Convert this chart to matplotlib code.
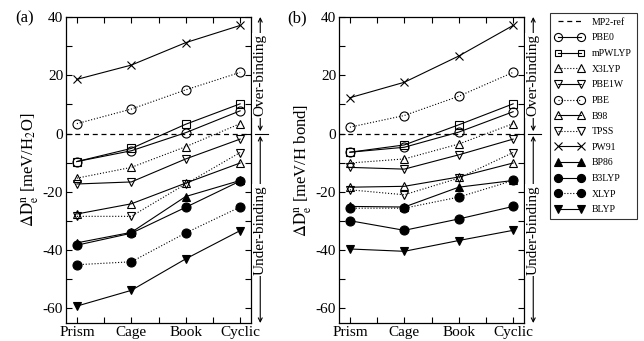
import matplotlib
matplotlib.use('Agg')
import matplotlib.pyplot as plt
import matplotlib.transforms as mtransforms
from matplotlib.ticker import MultipleLocator

plt.rcParams['font.family'] = ['Liberation Serif', 'DejaVu Serif']
plt.rcParams['mathtext.fontset'] = 'stix'
plt.rcParams['axes.unicode_minus'] = False

structures = ['Prism', 'Cage', 'Book', 'Cyclic']
methods = ['PBE0', 'mPWLYP', 'X3LYP', 'PBE1W', 'PBE', 'B98', 'TPSS',
           'PW91', 'BP86', 'B3LYP', 'XLYP', 'BLYP']

# panel (a): meV per H2O
pbe0_a = [-9.6, -5.9, 0.3, 7.8]
mpwlyp_a = [-9.6, -5.1, 3.2, 10.2]
x3lyp_a = [-15.3, -11.6, -4.5, 3.4]
pbe1w_a = [-17.3, -16.6, -8.7, -1.9]
pbe_a = [3.4, 8.4, 15.0, 21.0]
b98_a = [-27.6, -24.1, -17.0, -10.1]
tpss_a = [-28.4, -28.4, -17.3, -6.5]
pw91_a = [18.6, 23.5, 31.2, 37.1]
bp86_a = [-37.5, -33.9, -21.6, -16.1]
b3lyp_a = [-38.3, -34.2, -25.3, -16.3]
xlyp_a = [-45.0, -44.0, -34.1, -25.2]
blyp_a = [-59.2, -53.8, -43.0, -33.3]

# panel (b): meV per H bond
pbe0_b = [-6.4, -4.7, 0.5, 7.5]
mpwlyp_b = [-6.4, -3.9, 3.0, 10.2]
x3lyp_b = [-10.1, -8.7, -3.6, 3.4]
pbe1w_b = [-11.6, -12.2, -7.3, -1.9]
pbe_b = [2.2, 6.2, 12.8, 21.0]
b98_b = [-18.4, -18.1, -14.9, -10.1]
tpss_b = [-19.3, -21.0, -15.3, -6.5]
pw91_b = [12.3, 17.6, 26.6, 37.1]
bp86_b = [-25.0, -25.2, -18.4, -16.1]
b3lyp_b = [-29.9, -33.2, -29.3, -25.0]
xlyp_b = [-25.6, -25.6, -21.8, -16.1]
blyp_b = [-39.6, -40.4, -36.7, -33.2]

data_a = [pbe0_a, mpwlyp_a, x3lyp_a, pbe1w_a, pbe_a, b98_a, tpss_a,
          pw91_a, bp86_a, b3lyp_a, xlyp_a, blyp_a]
data_b = [pbe0_b, mpwlyp_b, x3lyp_b, pbe1w_b, pbe_b, b98_b, tpss_b,
          pw91_b, bp86_b, b3lyp_b, xlyp_b, blyp_b]

# marker, linestyle, filled
styles = [('o', '-', False), ('s', '-', False), ('^', ':', False),
          ('v', '-', False), ('o', ':', False), ('^', '-', False),
          ('v', ':', False), ('x', '-', False), ('^', '-', True),
          ('o', '-', True), ('o', ':', True), ('v', '-', True)]

x = list(range(len(structures)))

fig = plt.figure(figsize=(6.44, 3.41), dpi=100)
ax_a = fig.add_axes([66 / 644, 18 / 341, 185 / 644, 306 / 341])
ax_b = fig.add_axes([339 / 644, 18 / 341, 185 / 644, 306 / 341])


def draw_panel(ax, data, ylabel, tag):
    ax.axhline(0, color='black', ls='--', lw=0.9, dashes=(4, 3), label='MP2-ref')
    for vals, name, (mk, ls, filled) in zip(data, methods, styles):
        ms = 6.5 if mk == 'o' else 6
        if mk == 's':
            ms = 5.5
        ax.plot(x, vals, color='black', ls=ls, lw=0.8, marker=mk,
                ms=ms, mew=0.8, mfc='black' if filled else 'none',
                mec='black', label=name)
    ax.set_xlim(-0.2, 3.2)
    ax.set_ylim(-65, 40)
    ax.set_xticks(x)
    ax.set_xticklabels(structures)
    ax.xaxis.set_minor_locator(MultipleLocator(0.5))
    ax.yaxis.set_major_locator(MultipleLocator(20))
    ax.yaxis.set_minor_locator(MultipleLocator(10))
    ax.tick_params(which='both', direction='in', top=True, right=True,
                   labelsize=11, width=0.8)
    ax.tick_params(which='major', length=4, pad=2)
    ax.tick_params(which='minor', length=4)
    for s in ax.spines.values():
        s.set_linewidth(0.9)
    ax.set_ylabel(ylabel, fontsize=12, labelpad=1)
    ax.text(-0.225, 0.995, tag, transform=ax.transAxes, fontsize=12,
            ha='center', va='center')

    # over / under binding arrows outside the right axis
    tr = mtransforms.blended_transform_factory(ax.transAxes, ax.transData)
    xa = 1.05
    kw = dict(arrowstyle='<->', lw=0.8, color='black', shrinkA=0, shrinkB=0,
              mutation_scale=7)
    ax.annotate('', xy=(xa, 40), xytext=(xa, 0.8), xycoords=tr,
                textcoords=tr, arrowprops=kw, annotation_clip=False)
    ax.annotate('', xy=(xa, -65), xytext=(xa, -0.8), xycoords=tr,
                textcoords=tr, arrowprops=kw, annotation_clip=False)
    ax.plot([1.02, 1.09], [0, 0], color='black', lw=0.8, transform=tr,
            clip_on=False)
    box = dict(facecolor='white', edgecolor='none', pad=1)
    ax.text(xa, 20, 'Over-binding', transform=tr, rotation=90, fontsize=11,
            ha='center', va='center', bbox=box)
    ax.text(xa, -33, 'Under-binding', transform=tr, rotation=90, fontsize=11,
            ha='center', va='center', bbox=box)


draw_panel(ax_a, data_a, r'$\Delta\mathrm{D}_\mathrm{e}^\mathrm{n}$ [meV/H$_2$O]', '(a)')
draw_panel(ax_b, data_b, r'$\Delta\mathrm{D}_\mathrm{e}^\mathrm{n}$ [meV/H bond]', '(b)')

handles, labels = ax_a.get_legend_handles_labels()
leg = fig.legend(handles, labels, loc='upper left',
                 bbox_to_anchor=(550 / 644, 1 - 13 / 341), fontsize=7,
                 numpoints=2, handlelength=3.0, labelspacing=0.68,
                 frameon=True, fancybox=False, edgecolor='black',
                 borderpad=0.5, borderaxespad=0, handletextpad=0.8,
                 markerscale=0.9)
leg.get_frame().set_linewidth(0.8)

fig.savefig('out.png', dpi=100)
